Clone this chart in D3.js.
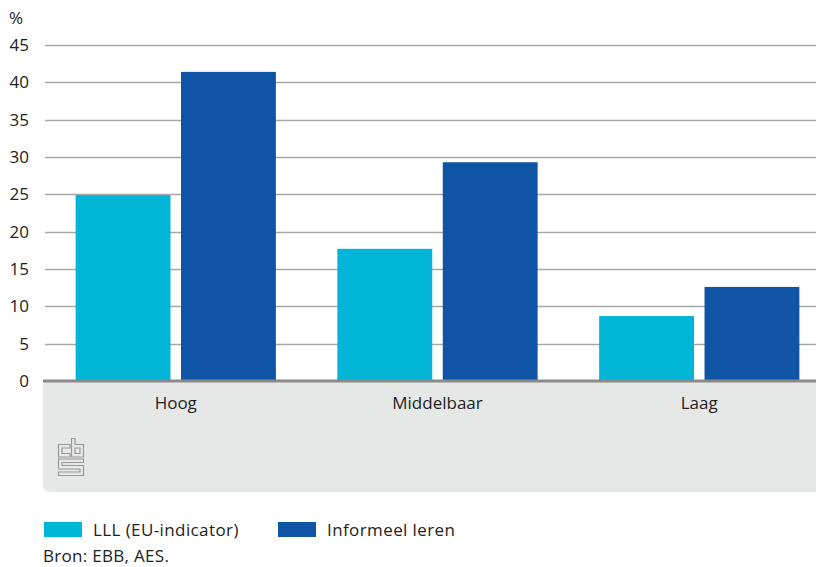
<!DOCTYPE html>
<html>
<head>
<meta charset="utf-8">
<script src="https://cdn.jsdelivr.net/npm/d3@7"></script>
<style>
  html, body { margin: 0; padding: 0; background: #fff; }
  svg { display: block; }
  text { font-family: "Open Sans", "Noto Sans", sans-serif; fill: #222; }
</style>
</head>
<body>
<svg id="chart" width="816" height="567"></svg>
<script>
// Deelname aan leren naar onderwijsniveau
const categories = ["Hoog", "Middelbaar", "Laag"];
const seriesNames = ["LLL (EU-indicator)", "Informeel leren"];
const lllValues = [24.9, 17.7, 8.7];
const informeelValues = [41.4, 29.3, 12.6];
const yTicks = [0, 5, 10, 15, 20, 25, 30, 35, 40, 45];
const colors = ["#00b5d6", "#1054a5"];
const source = "Bron: EBB, AES.";

const svg = d3.select("#chart");
const W = 816;
const plotLeft = 45, plotTop = 45, plotBottom = 381;

const y = d3.scaleLinear().domain([0, 45]).range([plotBottom, plotTop]);
const x0 = d3.scaleBand().domain(categories).range([45, 830]).paddingInner(0.235).paddingOuter(0.117);
const x1 = d3.scaleBand().domain(seriesNames).range([0, x0.bandwidth()]).paddingInner(0.1);

const rows = categories.map((c, i) => ({ cat: c, values: [lllValues[i], informeelValues[i]] }));

// grey footer panel below the axis
svg.append("path")
  .attr("d", () => {
    const l = 43, t = plotBottom, r = W, b = 492, rad = 7;
    return `M${l},${t} H${r} V${b} H${l + rad} Q${l},${b} ${l},${b - rad} Z`;
  })
  .attr("fill", "#e6e7e7");

// gridlines
svg.append("g")
  .selectAll("line")
  .data(yTicks.filter(d => d > 0))
  .join("line")
  .attr("x1", plotLeft).attr("x2", W)
  .attr("y1", d => Math.round(y(d)) + 0.5).attr("y2", d => Math.round(y(d)) + 0.5)
  .attr("stroke", "#a8a8a8").attr("stroke-width", 1.3);

// y tick labels
svg.append("g")
  .selectAll("text")
  .data(yTicks)
  .join("text")
  .attr("x", 29)
  .attr("y", d => y(d))
  .attr("dy", "0.36em")
  .attr("text-anchor", "end")
  .style("font-size", "17px")
  .text(d => d);

svg.append("text")
  .attr("x", 9).attr("y", 24)
  .style("font-size", "17px")
  .text("%");

// bars
const groups = svg.append("g")
  .selectAll("g")
  .data(rows)
  .join("g")
  .attr("transform", d => `translate(${x0(d.cat)},0)`);

groups.selectAll("rect")
  .data(d => d.values.map((v, i) => ({ key: seriesNames[i], v, i })))
  .join("rect")
  .attr("x", d => x1(d.key))
  .attr("width", x1.bandwidth())
  .attr("y", d => y(d.v))
  .attr("height", d => y(0) - y(d.v))
  .attr("fill", d => colors[d.i]);

// baseline
svg.append("line")
  .attr("x1", 43).attr("x2", W)
  .attr("y1", plotBottom).attr("y2", plotBottom)
  .attr("stroke", "#8a8a8a").attr("stroke-width", 3);

// category labels
svg.append("g")
  .selectAll("text")
  .data(categories)
  .join("text")
  .attr("x", d => x0(d) + x0.bandwidth() / 2)
  .attr("y", 409)
  .attr("text-anchor", "middle")
  .style("font-size", "17px")
  .text(d => d);

// cbs logo mark
const logo = svg.append("g")
  .attr("transform", "translate(58,438)")
  .attr("fill", "none")
  .attr("stroke", "#9a9a9a")
  .attr("stroke-width", 1.2);
// c
logo.append("path").attr("d", "M12,6.5 H0.5 V19 H12 V15.5 H4 V10 H12 Z");
// b
logo.append("path").attr("d", "M13.5,0.5 H17 V6.5 H25.5 V19 H13.5 Z");
logo.append("path").attr("d", "M17,10 H22 V15.5 H17 Z");
// S
logo.append("path").attr("d", "M0.5,21 H25.5 V24.5 H4 V27.5 H25.5 V37.5 H0.5 V34 H22 V31 H0.5 Z");

// legend
const legend = svg.append("g");
seriesNames.forEach((name, i) => {
  const lx = i === 0 ? 44 : 278;
  legend.append("rect")
    .attr("x", lx).attr("y", 522)
    .attr("width", 38).attr("height", 15)
    .attr("fill", colors[i]);
  legend.append("text")
    .attr("x", lx + 49).attr("y", 536)
    .style("font-size", "17px")
    .style("letter-spacing", "0.4px")
    .text(name);
});

svg.append("text")
  .attr("x", 43).attr("y", 562)
  .style("font-size", "17px")
  .style("letter-spacing", "0.3px")
  .text(source);
</script>
</body>
</html>
